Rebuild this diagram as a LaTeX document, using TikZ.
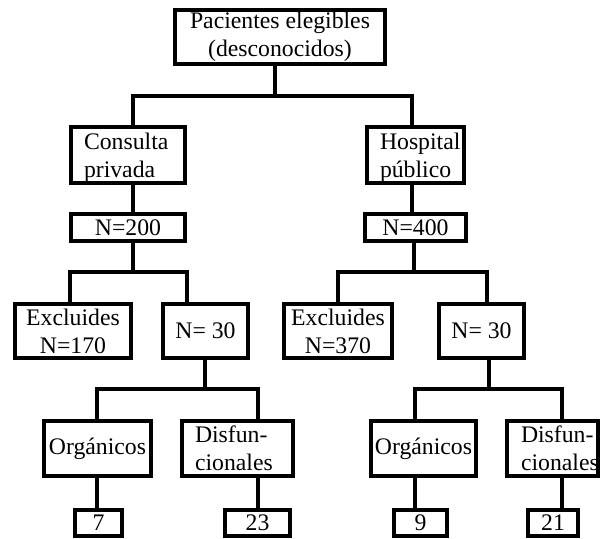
\documentclass[tikz,border=0pt]{standalone}
\usepackage{fontspec}
\setmainfont{Liberation Serif}
\hyphenpenalty=10000\relax
\exhyphenpenalty=10000\relax
\begin{document}
\begin{tikzpicture}[x=0.75pt,y=-0.75pt,
  every node/.style={font=\fontsize{17.8}{21}\selectfont},
  box/.style={draw, line width=3pt, inner sep=0pt, align=center, minimum height=40.5pt},
  lbox/.style={draw, line width=3pt, inner ysep=0pt, align=left, minimum height=40.5pt},
  small/.style={box, minimum height=20.25pt},
  leaf/.style={box, minimum height=19.5pt},
  conn/.style={line width=3pt}]
\useasboundingbox (0,0) rectangle (602,538);

% boxes
\node[box, minimum width=157.5pt] (top) at (280,37) {Pacientes elegibles\\(desconocidos)};
\node[lbox, minimum width=85.5pt, text width=66pt, inner xsep=9.75pt, text height=17pt] (cons) at (128,155) {\mbox{Consulta}\\\mbox{privada}};
\node[lbox, minimum width=72.75pt, text width=53.25pt, inner xsep=9.75pt, text height=17pt] (hosp) at (415.5,155) {\mbox{Hospital}\\\mbox{público}};
\node[small, minimum width=85.5pt] (n200) at (128,227.5) {N=200};
\node[small, minimum width=75.75pt] (n400) at (415.5,227.5) {N=400};
\node[box, minimum width=87pt] (exL) at (73,331) {Excluides\\N=170};
\node[box, minimum width=63.75pt] (n30L) at (205.5,331) {N= 30};
\node[box, minimum width=81pt] (exR) at (338,331) {Excluides\\N=370};
\node[box, minimum width=63.75pt] (n30R) at (481.5,331) {N= 30};
\node[box, minimum width=80.25pt, minimum height=41.25pt] (orgL) at (97.5,448.5) {Orgánicos};
\node[lbox, minimum width=83.25pt, minimum height=41.25pt, text width=63.75pt, inner xsep=9.75pt] (disL) at (237.5,448.5) {\mbox{Disfun-}\\\mbox{cionales}};
\node[box, minimum width=78.75pt, minimum height=41.25pt] (orgR) at (423.5,448.5) {Orgánicos};
\node[lbox, minimum width=68.25pt, minimum height=41.25pt, text width=47.25pt, inner xsep=10.5pt] (disR) at (552.5,448.5) {\mbox{Disfun-}\\\mbox{cionales}};
\node[leaf, minimum width=35.25pt] (b7) at (98.5,522.5) {7};
\node[leaf, minimum width=48.75pt] (b23) at (257.5,522.5) {23};
\node[leaf, minimum width=39.75pt] (b9) at (420.5,522.5) {9};
\node[leaf, minimum width=37.5pt] (b21) at (553,522.5) {21};

% junction coordinates
\coordinate (j0) at (275,96);
\coordinate (jL1) at (133,96);
\coordinate (jR1) at (412,96);
\coordinate (jL2) at (133,272);
\coordinate (dA) at (70,272);
\coordinate (dB) at (187,272);
\coordinate (jR2) at (414,272);
\coordinate (dC) at (338,272);
\coordinate (dD) at (487,272);
\coordinate (jL3) at (205,389);
\coordinate (dE) at (97,389);
\coordinate (dF) at (258,389);
\coordinate (jR3) at (489,389);
\coordinate (dG) at (415,389);
\coordinate (dH) at (562,389);

% connectors
\draw[conn] (j0 |- top.south) -- (j0);
\draw[conn] (jL1 |- cons.north) -- (jL1) -- (jR1) -- (jR1 |- hosp.north);
\draw[conn] (jL1 |- cons.south) -- (jL1 |- n200.north);
\draw[conn] (jR1 |- hosp.south) -- (jR1 |- n400.north);

\draw[conn] (jL2 |- n200.south) -- (jL2);
\draw[conn] (dA |- exL.north) -- (dA) -- (dB) -- (dB |- n30L.north);
\draw[conn] (jR2 |- n400.south) -- (jR2);
\draw[conn] (dC |- exR.north) -- (dC) -- (dD) -- (dD |- n30R.north);

\draw[conn] (jL3 |- n30L.south) -- (jL3);
\draw[conn] (dE |- orgL.north) -- (dE) -- (dF) -- (dF |- disL.north);
\draw[conn] (jR3 |- n30R.south) -- (jR3);
\draw[conn] (dG |- orgR.north) -- (dG) -- (dH) -- (dH |- disR.north);

\draw[conn] (dE |- orgL.south) -- (dE |- b7.north);
\draw[conn] (dF |- disL.south) -- (dF |- b23.north);
\draw[conn] (dG |- orgR.south) -- (dG |- b9.north);
\draw[conn] (dH |- disR.south) -- (dH |- b21.north);
\end{tikzpicture}
\end{document}
